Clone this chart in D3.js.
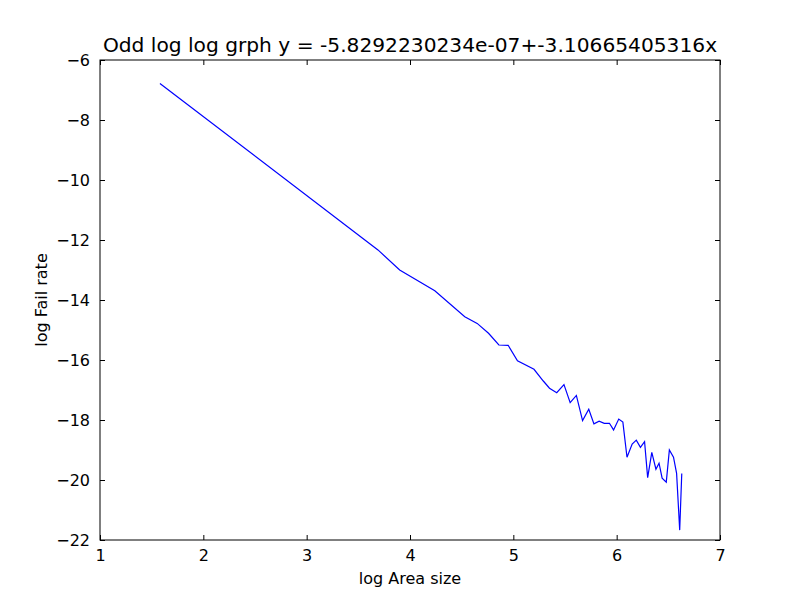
<!DOCTYPE html>
<html><head><meta charset="utf-8">
<script src="https://cdn.jsdelivr.net/npm/d3@7"></script>
<style>body{margin:0;background:#fff}text{font-family:"DejaVu Sans",sans-serif}</style>
</head><body><svg id="c" width="800" height="600"></svg>
<script>
const xs = [1.58,3.69,3.90,4.24,4.53,4.65,4.76,4.86,4.95,5.04,5.20,5.29,5.35,5.42,5.49,5.55,5.61,5.67,5.73,5.78,5.83,5.88,5.93,5.97,6.02,6.06,6.10,6.15,6.19,6.23,6.27,6.30,6.34,6.38,6.41,6.44,6.48,6.51,6.55,6.58,6.61,6.63];
const ys = [-6.78,-12.33,-13.0,-13.69,-14.56,-14.78,-15.11,-15.5,-15.51,-16.03,-16.31,-16.7,-16.94,-17.09,-16.82,-17.42,-17.18,-18.02,-17.64,-18.13,-18.04,-18.11,-18.11,-18.33,-17.97,-18.07,-19.24,-18.8,-18.67,-18.91,-18.72,-19.92,-19.08,-19.64,-19.44,-19.94,-20.07,-19.0,-19.24,-19.78,-21.67,-19.78];
const xTicks = [1,2,3,4,5,6,7];
const yTicks = [-6,-8,-10,-12,-14,-16,-18,-20,-22];
const title = "Odd log log grph y = -5.8292230234e-07+-3.10665405316x";

const svg = d3.select("#c");
const L=100,R=720,T=60,B=540;
const x = d3.scaleLinear().domain([1,7]).range([L,R]);
const y = d3.scaleLinear().domain([-22,-6]).range([B,T]);
const fmt = d => d<0 ? "\u2212"+Math.abs(d) : String(d);
const tl = 5;

svg.append("g").attr("transform",`translate(0,${B})`)
  .call(d3.axisBottom(x).tickValues(xTicks).tickFormat(fmt).tickSizeInner(-tl).tickSizeOuter(0).tickPadding(10));
svg.append("g").attr("transform",`translate(0,${T})`)
  .call(d3.axisTop(x).tickValues(xTicks).tickFormat("").tickSizeInner(-tl).tickSizeOuter(0));
svg.append("g").attr("transform",`translate(${L},0)`)
  .call(d3.axisLeft(y).tickValues(yTicks).tickFormat(fmt).tickSizeInner(-tl).tickSizeOuter(0).tickPadding(10));
svg.append("g").attr("transform",`translate(${R},0)`)
  .call(d3.axisRight(y).tickValues(yTicks).tickFormat("").tickSizeInner(-tl).tickSizeOuter(0));
svg.selectAll(".domain").remove();
svg.selectAll(".tick line").attr("stroke","#000");
svg.selectAll(".tick text").attr("font-size",16).attr("fill","#000").attr("font-family","DejaVu Sans");

svg.append("rect").attr("x",L).attr("y",T).attr("width",R-L).attr("height",B-T)
  .attr("fill","none").attr("stroke","#000").attr("stroke-width",1);

const pts = xs.map((v,i)=>[v,ys[i]]);
svg.append("path").datum(pts)
  .attr("d", d3.line().x(d=>x(d[0])).y(d=>y(d[1])))
  .attr("fill","none").attr("stroke","#0000ff").attr("stroke-width",1.2);

svg.append("text").attr("x",(L+R)/2).attr("y",T-8).attr("text-anchor","middle")
  .attr("font-size",20.2).text(title);
svg.append("text").attr("x",(L+R)/2).attr("y",584).attr("text-anchor","middle")
  .attr("font-size",16).text("log Area size");
svg.append("text").attr("transform",`translate(47,${(T+B)/2}) rotate(-90)`).attr("text-anchor","middle")
  .attr("font-size",16).text("log Fail rate");
</script></body></html>
